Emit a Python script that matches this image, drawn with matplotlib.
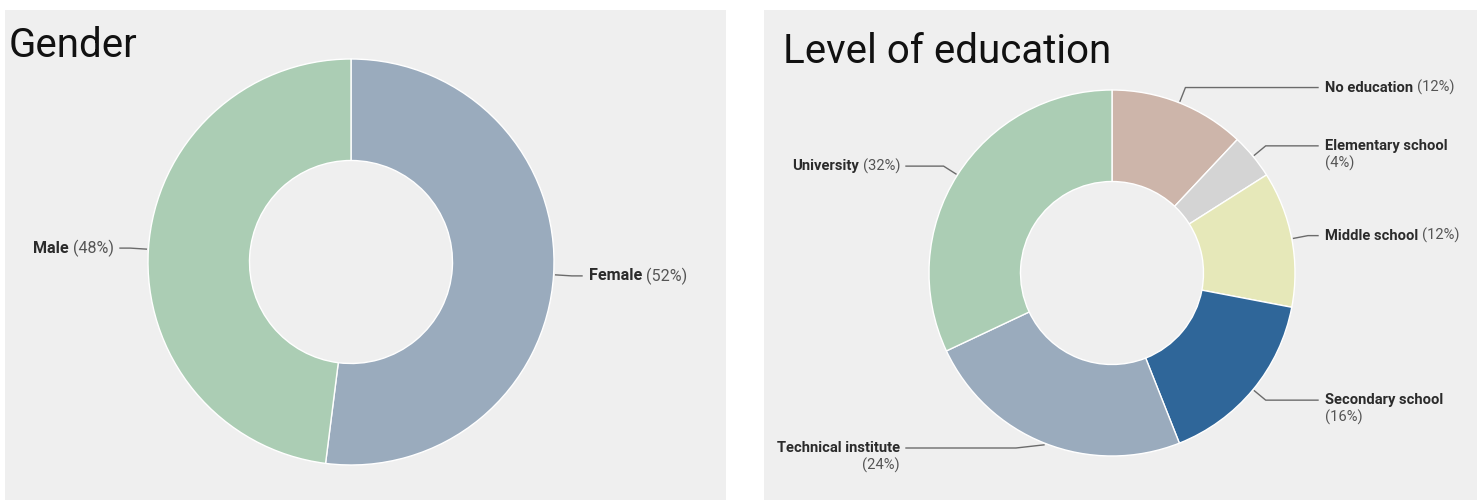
import numpy as np
import matplotlib
matplotlib.use("Agg")
import matplotlib.pyplot as plt
from matplotlib.patches import Rectangle

plt.rcParams.update({"font.family": ["Roboto", "DejaVu Sans"]})

# data
gender_labels = ["Female", "Male"]
gender_values = [52, 48]
edu_labels = ["No education", "Elementary school", "Middle school",
              "Secondary school", "Technical institute", "University"]
edu_values = [12, 4, 12, 16, 24, 32]

# style
BG = "#efefef"
LINE = "#6b6b6b"
NAME_C = "#2b2b2b"
PCT_C = "#555555"
gender_colors = ["#9aabbd", "#abcdb4"]
edu_colors = ["#cdb5aa", "#d4d4d4", "#e6e8b9", "#2f6699", "#9aabbd", "#abcdb4"]
edu_wrap = [False, True, False, True, True, False]

W, H = 1477, 501
fig = plt.figure(figsize=(W / 100, H / 100), dpi=100)
ax = fig.add_axes([0, 0, 1, 1])


def Y(py):
    return H - py


renderer = fig.canvas.get_renderer()


def text_w(t):
    return t.get_window_extent(renderer=renderer).width


def donut(values, labels, colors, cx, cy, r, x_right, x_left, wraps=None,
          y_bottom=None, fs=11.0):
    wedges, _ = ax.pie(values, colors=colors, startangle=90, counterclock=False,
                       center=(cx, Y(cy)), radius=r,
                       wedgeprops=dict(width=r * 0.5, edgecolor="white",
                                       linewidth=1.0))
    total = sum(values)
    for i, w in enumerate(wedges):
        ang = np.deg2rad((w.theta1 + w.theta2) / 2)
        ux, uy = np.cos(ang), np.sin(ang)
        x0, y0 = cx + 1.01 * r * ux, Y(cy) + 1.01 * r * uy
        x1, y1 = cx + 1.09 * r * ux, Y(cy) + 1.09 * r * uy
        if y_bottom is not None and y1 < Y(y_bottom):
            # keep the label inside the panel: slide the elbow sideways
            y1 = Y(y_bottom)
            x1 = x0 - 28 if ux < 0 else x0 + 28
        right = ux >= 0
        xe = x_right - 7 if right else x_left + 6
        ax.plot([x0, x1, xe], [y0, y1, y1], color=LINE, lw=1.0, zorder=3)
        name = labels[i]
        pct = f"({values[i] * 100 // total}%)"
        wrap = wraps[i] if wraps else False
        if right:
            t = ax.text(x_right, y1, name, ha="left", va="center", fontsize=fs,
                        fontweight="bold", color=NAME_C)
            if wrap:
                ax.text(x_right, y1 - 17, pct, ha="left", va="center",
                        fontsize=fs, color=PCT_C)
            else:
                ax.text(x_right + text_w(t) + 4, y1, pct, ha="left",
                        va="center", fontsize=fs, color=PCT_C)
        else:
            if wrap:
                ax.text(x_left, y1, name, ha="right", va="center", fontsize=fs,
                        fontweight="bold", color=NAME_C)
                ax.text(x_left, y1 - 17, pct, ha="right", va="center",
                        fontsize=fs, color=PCT_C)
            else:
                p = ax.text(x_left, y1, pct, ha="right", va="center",
                            fontsize=fs, color=PCT_C)
                ax.text(x_left - text_w(p) - 4, y1, name, ha="right",
                        va="center", fontsize=fs, fontweight="bold",
                        color=NAME_C)


# panels
ax.add_patch(Rectangle((5, Y(500)), 721, 490, facecolor=BG, edgecolor="none",
                       zorder=0))
ax.add_patch(Rectangle((764, Y(500)), 713, 490, facecolor=BG, edgecolor="none",
                       zorder=0))

donut(gender_values, gender_labels, gender_colors, 351, 262, 203, 589, 114,
      fs=11.6)
donut(edu_values, edu_labels, edu_colors, 1112, 273, 183, 1325, 900, edu_wrap,
      y_bottom=448, fs=10.6)

ax.text(9, Y(57), "Gender", fontsize=29, color="#111111", va="baseline")
ax.text(783, Y(63), "Level of education", fontsize=29, color="#111111",
        va="baseline")

ax.set_xlim(0, W)
ax.set_ylim(0, H)
ax.set_aspect("auto")
ax.axis("off")

fig.savefig("out.png", dpi=100, facecolor="white")
